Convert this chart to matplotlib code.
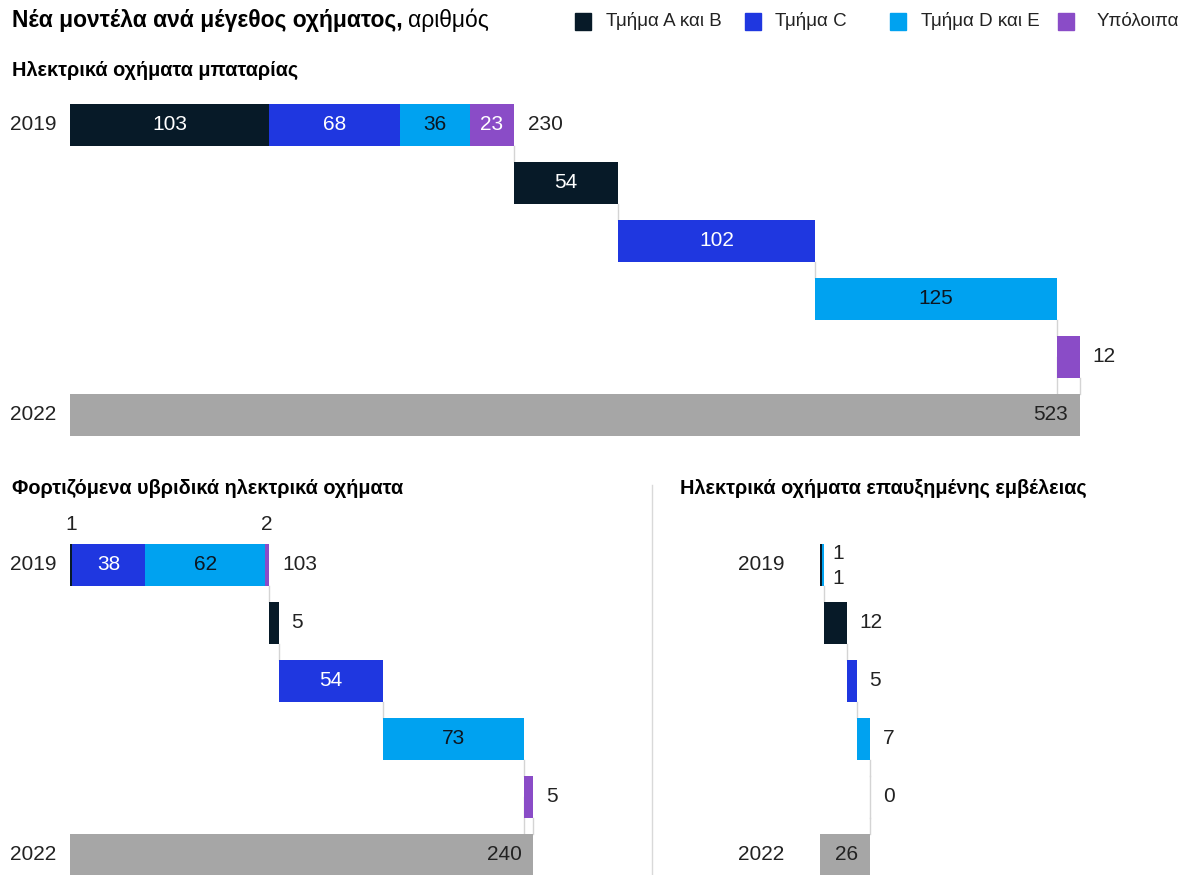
import matplotlib
matplotlib.use("Agg")
import matplotlib.pyplot as plt
from matplotlib.patches import Rectangle
from matplotlib.lines import Line2D
import matplotlib.transforms as mtransforms

plt.rcParams['font.family'] = ['Liberation Sans', 'DejaVu Sans']

# ---- data ----
segments = ["Τμήμα A και B", "Τμήμα C", "Τμήμα D και E", "Υπόλοιπα"]
years = ["2019", "2022"]

bev_2019 = [103, 68, 36, 23]
bev_change = [54, 102, 125, 12]
bev_2022 = 523

phev_2019 = [1, 38, 62, 2]
phev_change = [5, 54, 73, 5]
phev_2022 = 240

erev_2019 = [1, 0, 1, 0]
erev_change = [12, 5, 7, 0]
erev_2022 = 26

colors = ["#071a28", "#1f37e0", "#00a2f0", "#8a4cc7"]
text_colors = ["white", "white", "#0d1620", "white"]
total_color = "#a6a6a6"
line_color = "#d4d4d4"
txt = "#222222"

W, H = 1184, 875
PX = 1.931  # pixels per unit
BAR_H = 0.72
FS = 15

fig = plt.figure(figsize=(W / 100, H / 100), dpi=100)


def make_ax(left_px, zero_px, right_px, top_px, bottom_px):
    ax = fig.add_axes([left_px / W, 1 - bottom_px / H, (right_px - left_px) / W,
                       (bottom_px - top_px) / H])
    ax.set_xlim(-(zero_px - left_px) / PX, (right_px - zero_px) / PX)
    ax.set_ylim(5.5, -0.5)
    ax.axis("off")
    return ax


def waterfall(ax, start, change, total, year_x_px, small_mode):
    # 2019 stacked bar
    left = 0
    for i, v in enumerate(start):
        if v > 0:
            ax.barh(0, v, left=left, height=BAR_H, color=colors[i], linewidth=0)
            if v >= 12:
                ax.text(left + v / 2, 0, str(v), ha="center", va="center",
                        color=text_colors[i], fontsize=FS)
            elif small_mode == "above":
                ax.text(left + v / 2, -0.7, str(v), ha="center", va="center",
                        color=txt, fontsize=FS)
        left += v
    s2019 = sum(start)
    if small_mode == "side":
        shown = [v for v in start if v > 0]
        for k, v in enumerate(shown):
            ax.text(s2019 + 4.5, -0.2 + 0.44 * k, str(v), ha="left", va="center",
                    color=txt, fontsize=FS)
    else:
        ax.text(s2019 + 7, 0, str(s2019), ha="left", va="center", color=txt, fontsize=FS)

    # increments
    cum = s2019
    for i, v in enumerate(change):
        row = i + 1
        ax.plot([cum, cum], [row - 1 + BAR_H / 2, row - BAR_H / 2], color=line_color,
                lw=1, zorder=0)
        if v > 0:
            ax.barh(row, v, left=cum, height=BAR_H, color=colors[i], linewidth=0)
        else:
            ax.plot([cum, cum], [row - BAR_H / 2, row + BAR_H / 2], color=line_color,
                    lw=1, zorder=0)
        if v >= 20:
            ax.text(cum + v / 2, row, str(v), ha="center", va="center",
                    color=text_colors[i], fontsize=FS)
        else:
            ax.text(cum + v + 6.5, row, str(v), ha="left", va="center",
                    color=txt, fontsize=FS)
        if i == len(change) - 1 and v > 0:
            ax.plot([cum, cum], [row, 5 - BAR_H / 2], color=line_color, lw=1, zorder=0)
        cum += v
    ax.plot([cum, cum], [4 + BAR_H / 2, 5 - BAR_H / 2], color=line_color, lw=1, zorder=0)

    # 2022 total
    ax.barh(5, total, height=BAR_H, color=total_color, linewidth=0)
    ax.text(total - 6, 5, str(total), ha="right", va="center", color=txt, fontsize=FS)

    tr = mtransforms.blended_transform_factory(fig.transFigure, ax.transData)
    ax.text(year_x_px / W, 0, years[0], transform=tr, ha="left", va="center",
            color=txt, fontsize=FS)
    ax.text(year_x_px / W, 5, years[1], transform=tr, ha="left", va="center",
            color=txt, fontsize=FS)


ax1 = make_ax(70, 70, 1184, 96, 444)
waterfall(ax1, bev_2019, bev_change, bev_2022, 10, "none")

ax2 = make_ax(70, 70, 640, 536, 884)
waterfall(ax2, phev_2019, phev_change, phev_2022, 10, "above")

ax3 = make_ax(660, 820, 1184, 536, 884)
waterfall(ax3, erev_2019, erev_change, erev_2022, 738, "side")

# ---- titles ----
t = fig.text(12 / W, 1 - 20 / H, "Νέα μοντέλα ανά μέγεθος οχήματος,", fontsize=16.5,
             fontweight="bold", ha="left", va="center", color="black")
renderer = fig.canvas.get_renderer()
bb = t.get_window_extent(renderer)
fig.text(bb.x1 / W + 5 / W, 1 - 20 / H, "αριθμός", fontsize=16.5, ha="left",
         va="center", color="black")

fig.text(12 / W, 1 - 70 / H, "Ηλεκτρικά οχήματα μπαταρίας", fontsize=14.3,
         fontweight="bold", ha="left", va="center", color="black")
fig.text(12 / W, 1 - 488 / H, "Φορτιζόμενα υβριδικά ηλεκτρικά οχήματα", fontsize=14.3,
         fontweight="bold", ha="left", va="center", color="black")
fig.text(680 / W, 1 - 488 / H, "Ηλεκτρικά οχήματα επαυξημένης εμβέλειας", fontsize=14.3,
         fontweight="bold", ha="left", va="center", color="black")

# divider
fig.add_artist(Line2D([652 / W, 652 / W], [0, 1 - 485 / H], transform=fig.transFigure,
                      color="#d9d9d9", lw=1))

# ---- legend ----
leg_sq = [575, 745, 890, 1058]
leg_tx = [606, 775, 921, 1097]
for i, name in enumerate(segments):
    fig.add_artist(Rectangle((leg_sq[i] / W, 1 - 30 / H), 16 / W, 17 / H,
                             transform=fig.transFigure, color=colors[i]))
    fig.text(leg_tx[i] / W, 1 - 21 / H, name, fontsize=13.5, ha="left", va="center",
             color=txt)

fig.savefig("out.png", dpi=100)
